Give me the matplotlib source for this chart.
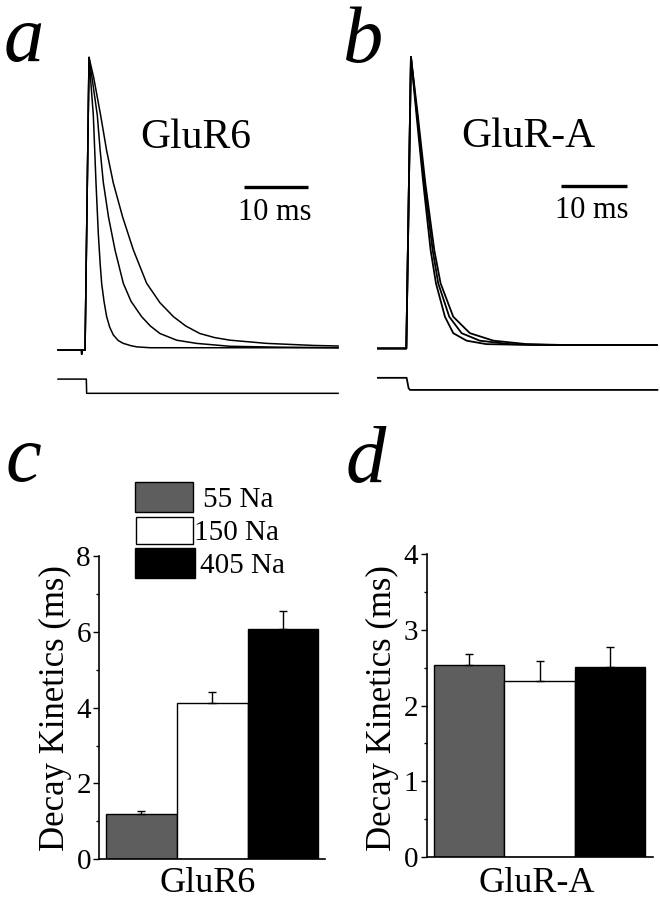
#!/usr/bin/env python3
"""
Decay kinetics of GluR6 vs GluR-A currents at three Na+ concentrations.
Top: normalised current traces (a, b). Bottom: mean decay time constants (c, d).
"""

import matplotlib
matplotlib.use("Agg")
import matplotlib.pyplot as plt
from matplotlib.patches import Rectangle

plt.rcParams['font.family'] = ['Liberation Serif', 'DejaVu Serif']

W, H = 660, 900  # figure size in px

# ── traces: time (ms from onset), amplitude normalised to peak ────────────
# panel a (GluR6)
a_rise_t = [-4.35, -0.70, -0.67, -0.64, -0.15, 0.47]
a_rise_v = [-0.008, -0.008, -0.022, -0.008, -0.008, 1.0]
a_fast_t = [0.47, 0.80, 1.14, 1.55, 1.92, 2.20, 2.44, 2.80, 3.21, 3.70, 4.25,
            5.00, 5.80, 7.00, 7.90, 10.0, 39.2]
a_fast_v = [1.0, 0.90, 0.80, 0.57, 0.39, 0.29, 0.22, 0.16, 0.107, 0.07, 0.044,
            0.025, 0.015, 0.007, 0.003, 0.0, 0.0]
a_mid_t = [0.47, 1.00, 1.76, 2.20, 2.69, 3.50, 4.51, 5.80, 7.00, 8.65, 10.0,
           11.5, 14.1, 17.2, 22.4, 30.0, 39.2]
a_mid_v = [1.0, 0.92, 0.80, 0.68, 0.57, 0.45, 0.337, 0.222, 0.16, 0.107, 0.075,
           0.049, 0.026, 0.015, 0.005, 0.002, 0.0]
a_slow_t = [0.47, 1.20, 2.28, 3.20, 4.25, 5.70, 7.36, 9.43, 11.5, 13.6, 15.5,
            17.7, 20.0, 22.4, 28.1, 35.3, 39.2]
a_slow_v = [1.0, 0.93, 0.80, 0.68, 0.567, 0.45, 0.337, 0.222, 0.155, 0.107,
            0.075, 0.049, 0.035, 0.026, 0.015, 0.008, 0.006]
a_step_t = [-4.35, 0.05, 0.10, 39.2]
a_step_v = [-0.108, -0.108, -0.157, -0.157]

# panel b (GluR-A)
b_rise_t = [-4.5, -0.15, 0.56]
b_rise_v = [-0.012, -0.012, 1.0]
b_c1_t = [0.56, 1.43, 2.45, 3.57, 4.39, 5.77, 7.04, 9.08, 12.1, 19.3, 38.2]
b_c1_v = [1.0, 0.794, 0.562, 0.330, 0.214, 0.098, 0.041, 0.015, 0.003, 0.0, 0.0]
b_c2_t = [0.56, 1.53, 2.60, 3.88, 4.74, 6.43, 8.32, 11.1, 15.7, 22.0, 38.2]
b_c2_v = [1.0, 0.794, 0.562, 0.330, 0.214, 0.098, 0.041, 0.015, 0.003, 0.0, 0.0]
b_c3_t = [0.56, 1.63, 2.76, 4.13, 5.10, 7.04, 9.59, 13.2, 18.3, 24.0, 38.2]
b_c3_v = [1.0, 0.794, 0.562, 0.330, 0.214, 0.098, 0.041, 0.015, 0.003, 0.0, 0.0]
b_step_t = [-4.5, -0.10, 0.20, 0.40, 38.3]
b_step_v = [-0.114, -0.114, -0.150, -0.156, -0.156]

# ── bar data ──────────────────────────────────────────────────────────────
conditions = ['55 Na', '150 Na', '405 Na']
bar_colors = ['#5e5e5e', 'white', 'black']
glur6_mean = [1.20, 4.11, 6.07]
glur6_sem = [0.08, 0.31, 0.48]
glura_mean = [2.53, 2.32, 2.51]
glura_sem = [0.15, 0.27, 0.27]


def px_axes(x0, y0, x1, y1):
    """Add axes given pixel box (left, top, right, bottom)."""
    return fig.add_axes([x0 / W, 1 - y1 / H, (x1 - x0) / W, (y1 - y0) / H])


fig = plt.figure(figsize=(W / 100, H / 100), dpi=100)

# ── trace panels ──────────────────────────────────────────────────────────
trace_lw = 1.1

ax_a = px_axes(50, 40, 340, 400)
ax_a.set_xlim(-5.6, 39.5)
ax_a.set_ylim(-0.18, 1.06)
ax_a.axis('off')
for t, v in [(a_fast_t, a_fast_v), (a_mid_t, a_mid_v), (a_slow_t, a_slow_v)]:
    ax_a.plot(a_rise_t + t, a_rise_v + v, color='black', lw=trace_lw)
ax_a.plot(a_step_t, a_step_v, color='black', lw=trace_lw)
ax_a.plot([24.5, 34.5], [0.552, 0.552], color='black', lw=2.4,
          solid_capstyle='butt')
ax_a.text(29.3, 0.44, '10 ms', ha='center', va='baseline', fontsize=22)
ax_a.text(17.1, 0.688, 'GluR6', ha='center', va='baseline', fontsize=30)

ax_b = px_axes(370, 40, 660, 400)
ax_b.set_xlim(-5.71, 38.7)
ax_b.set_ylim(-0.191, 1.059)
ax_b.axis('off')
for t, v in [(b_c1_t, b_c1_v), (b_c2_t, b_c2_v), (b_c3_t, b_c3_v)]:
    ax_b.plot(b_rise_t + t, b_rise_v + v, color='black', lw=trace_lw + 0.2)
ax_b.plot(b_step_t, b_step_v, color='black', lw=trace_lw + 0.2)
ax_b.plot([23.5, 33.6], [0.552, 0.552], color='black', lw=2.4,
          solid_capstyle='butt')
ax_b.text(28.3, 0.441, '10 ms', ha='center', va='baseline', fontsize=22)
ax_b.text(18.6, 0.689, 'GluR-A', ha='center', va='baseline', fontsize=30)

# ── bar panels ────────────────────────────────────────────────────────────
def bar_panel(ax, means, sems, ymax, minor_step, xlim, xlabel, xlab_x,
              xlab_y, ylab_y):
    xs = range(len(means))
    ax.bar(xs, means, width=1.0, color=bar_colors, edgecolor='black',
           linewidth=1.0)
    ax.errorbar(xs, means, yerr=[[0] * len(means), sems], fmt='none',
                ecolor='black', elinewidth=1.0, capsize=3, capthick=1.0)
    ax.set_xlim(*xlim)
    ax.set_ylim(0, ymax)
    ax.set_yticks(range(0, int(ymax) + 1, int(ymax) // 4))
    ax.set_yticks([minor_step * k for k in range(1, 8, 2)], minor=True)
    ax.set_xticks([])
    for side in ('top', 'right'):
        ax.spines[side].set_visible(False)
    for side in ('left', 'bottom'):
        ax.spines[side].set_linewidth(1.2)
    ax.tick_params(axis='y', which='major', direction='out', length=4,
                   width=1.0, labelsize=21, pad=2)
    ax.tick_params(axis='y', which='minor', direction='out', length=2.5,
                   width=1.0)
    ax.set_ylabel('Decay Kinetics (ms)', fontsize=25, va='center')
    ax.yaxis.set_label_coords(-0.196, ylab_y)
    ax.set_xlabel(xlabel, fontsize=26, va='baseline')
    ax.xaxis.set_label_coords(xlab_x, xlab_y)


ax_c = px_axes(99.3, 556, 325, 859.3)
bar_panel(ax_c, glur6_mean, glur6_sem, 8, 1, (-0.594, 2.594), 'GluR6',
          0.482, -0.108, 0.5)

ax_d = px_axes(426.7, 554.3, 653.3, 856.7)
bar_panel(ax_d, glura_mean, glura_sem, 4, 0.5, (-0.604, 2.618), 'GluR-A',
          0.485, -0.117, 0.49)

# ── legend drawn by hand (pixel boxes) ────────────────────────────────────
legend_boxes = [(135, 481.7, 193.3, 511.7), (136, 516.7, 193.3, 544),
                (135, 548.3, 195, 578)]
legend_text_x = [203, 194.5, 200]
for (x0, y0, x1, y1), col, lab, tx in zip(legend_boxes, bar_colors,
                                          conditions, legend_text_x):
    fig.add_artist(Rectangle((x0 / W, 1 - y1 / H), (x1 - x0) / W,
                             (y1 - y0) / H, transform=fig.transFigure,
                             facecolor=col, edgecolor='black', linewidth=1.0))
    fig.text(tx / W, 1 - ((y0 + y1) / 2) / H, lab, ha='left',
             va='center_baseline', fontsize=21)

# ── panel letters ─────────────────────────────────────────────────────────
for lab, x, y in [('a', 4, 61), ('b', 342, 62), ('c', 6, 481), ('d', 346, 482)]:
    fig.text(x / W, 1 - y / H, lab, fontsize=58, fontstyle='italic',
             ha='left', va='baseline')

fig.savefig('out.png', dpi=100)
